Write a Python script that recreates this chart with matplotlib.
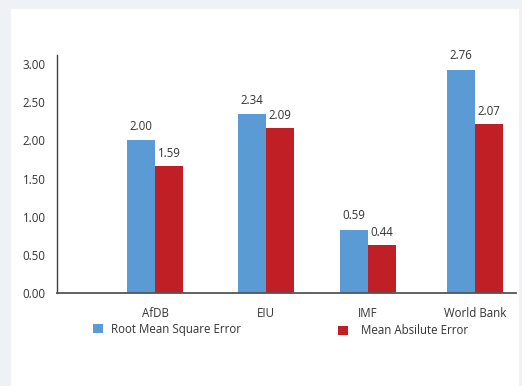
import numpy as np
import matplotlib
matplotlib.use("Agg")
import matplotlib.pyplot as plt
from matplotlib.patches import Rectangle

#### DATA ####
agencies = ["AfDB", "EIU", "IMF", "World Bank"]
rmse_bars = [2.00, 2.34, 0.83, 2.92]     # bar heights as drawn
mae_bars = [1.66, 2.16, 0.63, 2.21]
rmse_labels = ["2.00", "2.34", "0.59", "2.76"]   # printed values
mae_labels = ["1.59", "2.09", "0.44", "2.07"]
yticks = [0.0, 0.5, 1.0, 1.5, 2.0, 2.5, 3.0]

#### LAYOUT ####
W, H = 522, 386
group_pos = [98.3, 209.3, 311.3, 418.3]   # px from the y axis
bar_w = 28
blue = "#5b9bd5"
red = "#c01f26"
txt = "#333333"
plt.rcParams['font.family'] = ['Open Sans', 'DejaVu Sans']

fig = plt.figure(figsize=(W / 100, H / 100), dpi=100)
fig.patch.set_facecolor("#eef1f6")
fig.patches.append(Rectangle((11 / W, 0), (519 - 11) / W, (H - 9) / H,
                             transform=fig.transFigure, facecolor="white",
                             edgecolor="none", zorder=-10))

ax_l, ax_r, ax_t, ax_b = 56.7, 515.7, 55, 293.3
ax = fig.add_axes([ax_l / W, 1 - ax_b / H, (ax_r - ax_l) / W, (ax_b - ax_t) / H])
ax.set_facecolor("none")
ax.set_zorder(1)

x = np.array(group_pos)
ax.bar(x - bar_w / 2, rmse_bars, width=bar_w, color=blue)
ax.bar(x + bar_w / 2, mae_bars, width=bar_w, color=red)

for i in range(len(agencies)):
    ax.annotate(rmse_labels[i], (x[i] - bar_w / 2, rmse_bars[i]), xytext=(0, 14),
                textcoords="offset pixels", ha="center", va="center", fontsize=8.3, color=txt)
    ax.annotate(mae_labels[i], (x[i] + bar_w / 2, mae_bars[i]), xytext=(0, 13),
                textcoords="offset pixels", ha="center", va="center", fontsize=8.3, color=txt)

ax.set_xlim(0, ax_r - ax_l)
ax.set_ylim(0, (ax_b - ax_t) / 76.5)
ax.set_yticks(yticks)
ax.set_yticklabels(["%.2f" % v for v in yticks], fontsize=8.3, color=txt)
ax.tick_params(axis="y", length=0, pad=8)
ax.set_xticks(x)
ax.set_xticklabels(agencies, fontsize=8.3, color=txt)
ax.tick_params(axis="x", length=0, pad=10)
for s in ["top", "right"]:
    ax.spines[s].set_visible(False)
ax.spines["left"].set_color("#404040")
ax.spines["left"].set_linewidth(1.0)
ax.spines["bottom"].set_color("#555555")
ax.spines["bottom"].set_linewidth(1.3)

# legend
fig.patches.append(Rectangle((93.3 / W, 1 - 332.7 / H), 9.4 / W, 8.6 / H,
                             transform=fig.transFigure, facecolor=blue, edgecolor="none"))
fig.text(110.7 / W, 1 - 329 / H, "Root Mean Square Error", fontsize=8.3, color=txt, va="center")
fig.patches.append(Rectangle((338.3 / W, 1 - 335 / H), 10 / W, 9.3 / H,
                             transform=fig.transFigure, facecolor=red, edgecolor="none"))
fig.text(360.7 / W, 1 - 330 / H, "Mean Absilute Error", fontsize=8.3, color=txt, va="center")

fig.savefig("out.png", dpi=100, facecolor=fig.get_facecolor())
